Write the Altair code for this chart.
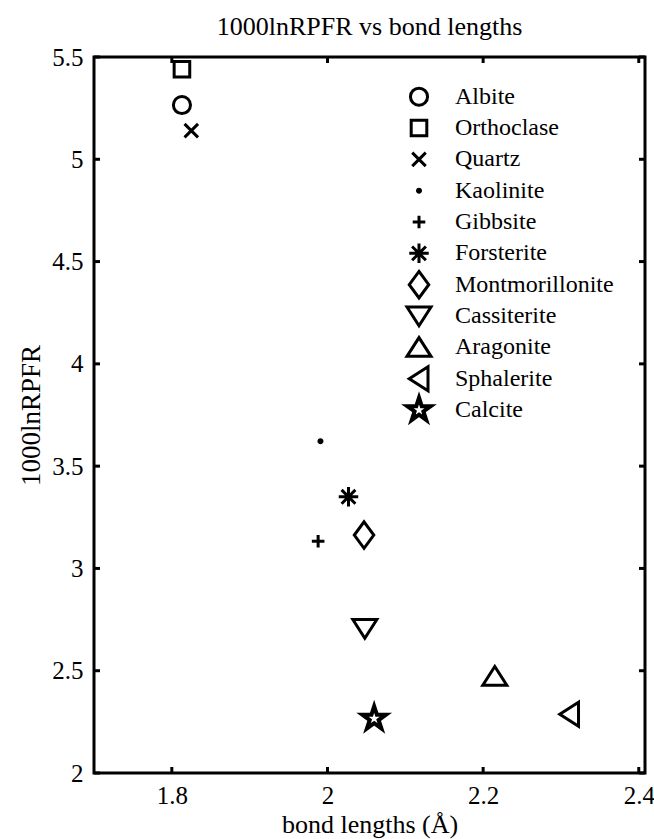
import math
import altair as alt
import pandas as pd

# ---- data ----
minerals = ["Albite", "Orthoclase", "Quartz", "Kaolinite", "Gibbsite", "Forsterite",
            "Montmorillonite", "Cassiterite", "Aragonite", "Sphalerite", "Calcite"]
bond_lengths = [1.813, 1.813, 1.825, 1.991, 1.988, 2.027, 2.047, 2.048, 2.215, 2.311, 2.060]
rpfr = [5.265, 5.44, 5.14, 3.622, 3.133, 3.35, 3.163, 2.706, 2.473, 2.287, 2.266]
x_ticks = [1.8, 2.0, 2.2, 2.4]
y_ticks = [2, 2.5, 3, 3.5, 4, 4.5, 5, 5.5]

df = pd.DataFrame({"mineral": minerals, "bond": bond_lengths, "rpfr": rpfr})
xt = pd.DataFrame({"bond": x_ticks})
yt = pd.DataFrame({"rpfr": y_ticks})

# ---- marker shapes (styles) ----
def circle_path(r):
    return f"M {-r} 0 A {r} {r} 0 1 0 {r} 0 A {r} {r} 0 1 0 {-r} 0 Z"

def star_path(R, ratio=0.382):
    pts = []
    for i in range(10):
        rr = R if i % 2 == 0 else R * ratio
        a = -math.pi / 2 + i * math.pi / 5
        pts.append((rr * math.cos(a), rr * math.sin(a)))
    return "M " + " L ".join(f"{px:.3f} {py:.3f}" for px, py in pts) + " Z"

shapes = [
    circle_path(0.57),
    "M -0.52 -0.52 L 0.52 -0.52 L 0.52 0.52 L -0.52 0.52 Z",
    "M -0.45 -0.45 L 0.45 0.45 M -0.45 0.45 L 0.45 -0.45",
    circle_path(0.1),
    "M -0.42 0 L 0.42 0 M 0 -0.42 L 0 0.42",
    "M -0.65 0 L 0.65 0 M 0 -0.65 L 0 0.65 M -0.46 -0.46 L 0.46 0.46 M -0.46 0.46 L 0.46 -0.46",
    "M 0 -0.88 L 0.65 0 L 0 0.88 L -0.65 0 Z",
    "M -0.8 -0.6 L 0.8 -0.6 L 0 0.65 Z",
    "M -0.8 0.6 L 0.8 0.6 L 0 -0.65 Z",
    "M 0.6 -0.8 L 0.6 0.8 L -0.65 0 Z",
    star_path(0.93) + " " + star_path(0.7),
]

W, H = 551, 716
FONT = "Liberation Serif"
TL = 6  # inward tick length

x_axis = alt.Axis(values=x_ticks, format="~g", title="bond lengths (Å)",
                  labelPadding=10, titlePadding=3, titleFontSize=26)
y_axis = alt.Axis(values=y_ticks, format="~g", title="1000lnRPFR",
                  labelPadding=11, titlePadding=6, titleFontSize=27)
x_scale = alt.Scale(domain=[1.7, 2.408], nice=False, zero=False)
y_scale = alt.Scale(domain=[2, 5.5], nice=False, zero=False)
shape_scale = alt.Scale(domain=minerals, range=shapes)

X = alt.X("bond:Q", scale=x_scale, axis=x_axis)
Y = alt.Y("rpfr:Q", scale=y_scale, axis=y_axis)

rule = dict(color="black", strokeWidth=3)
bottom = alt.Chart(xt).mark_rule(**rule).encode(x=X, y=alt.value(H), y2=alt.value(H - TL))
top = alt.Chart(xt).mark_rule(**rule).encode(x=X, y=alt.value(0), y2=alt.value(TL))
left = alt.Chart(yt).mark_rule(**rule).encode(y=Y, x=alt.value(0), x2=alt.value(TL))
right = alt.Chart(yt).mark_rule(**rule).encode(y=Y, x=alt.value(W - TL), x2=alt.value(W))

points = alt.Chart(df).mark_point(filled=False, strokeWidth=3, color="black", opacity=1).encode(
    x=X,
    y=Y,
    shape=alt.Shape("mineral:N", scale=shape_scale, legend=None),
    size=alt.value(900),
)

main = alt.layer(bottom, top, left, right, points)

# ---- legend built from the same data (rows via a point scale) ----
legend_y = alt.Y("mineral:N", scale=alt.Scale(type="point", domain=minerals,
                                               range=[39.7, 353], padding=0), axis=None)
leg_sym = alt.Chart(df).mark_point(filled=False, strokeWidth=3, color="black", opacity=1).encode(
    x=alt.value(325),
    y=legend_y,
    shape=alt.Shape("mineral:N", scale=shape_scale, legend=None),
    size=alt.value(900),
)
leg_txt = alt.Chart(df).mark_text(align="left", baseline="middle", font=FONT,
                                  fontSize=24, color="black").encode(
    x=alt.value(361),
    y=legend_y,
    text="mineral:N",
)
legend = alt.layer(leg_sym, leg_txt)

chart = alt.layer(main, legend).resolve_scale(y="independent").properties(
    width=W,
    height=H,
    title=alt.TitleParams("1000lnRPFR vs bond lengths", font=FONT, fontSize=26,
                          fontWeight="normal", color="black", anchor="middle",
                          frame="group", baseline="bottom", offset=14, dy=35),
    padding={"left": 94, "top": 57, "right": 9, "bottom": 66},
    autosize=alt.AutoSizeParams(type="none"),
).configure_view(stroke="black", strokeWidth=3).configure_axis(
    domain=False, grid=False, ticks=False,
    labelFont=FONT, labelFontSize=25, labelColor="black",
    titleFont=FONT, titleFontWeight="normal", titleColor="black",
)

chart.save("out.html", embed_options={"renderer": "svg", "actions": False})
